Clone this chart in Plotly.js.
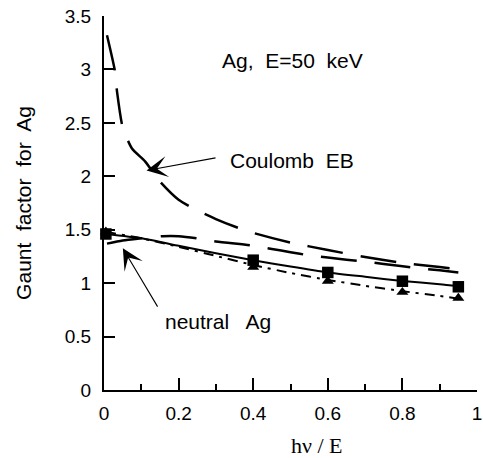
<!DOCTYPE html>
<html>
<head>
<meta charset="utf-8">
<script src="https://cdn.plot.ly/plotly-3.0.1.min.js"></script>
<style>html,body{margin:0;padding:0;background:#fff;}#chart{width:483px;height:458px;}</style>
</head>
<body>
<div id="chart"></div>
<script>
// Coulomb EB (upper long-dashed curve)
var coulombX = [0.008, 0.029, 0.035, 0.05, 0.075, 0.11, 0.15, 0.2, 0.25, 0.3, 0.35, 0.4, 0.5, 0.6, 0.7, 0.8, 0.9, 0.95];
var coulombY = [3.32, 2.99, 2.79, 2.46, 2.26, 2.14, 1.95, 1.78, 1.68, 1.60, 1.53, 1.47, 1.38, 1.31, 1.245, 1.19, 1.15, 1.13];
// lower long-dashed curve
var dashX = [0.008, 0.05, 0.1, 0.157, 0.2, 0.25, 0.3, 0.4, 0.45, 0.5, 0.55, 0.6, 0.7, 0.75, 0.84, 0.9, 0.95];
var dashY = [1.37, 1.40, 1.42, 1.44, 1.44, 1.42, 1.39, 1.35, 1.32, 1.29, 1.26, 1.24, 1.20, 1.18, 1.14, 1.12, 1.10];
// solid curve
var solidX = [0.005, 0.1, 0.2, 0.3, 0.4, 0.5, 0.6, 0.7, 0.8, 0.9, 0.95];
var solidY = [1.46, 1.42, 1.35, 1.28, 1.215, 1.155, 1.10, 1.06, 1.02, 0.99, 0.97];
// dash-dot curve
var dotX = [0.005, 0.1, 0.2, 0.3, 0.4, 0.5, 0.6, 0.7, 0.8, 0.9, 0.95];
var dotY = [1.48, 1.42, 1.34, 1.255, 1.17, 1.095, 1.03, 0.975, 0.925, 0.88, 0.855];
// square points
var squareX = [0.005, 0.4, 0.6, 0.8, 0.95];
var squareY = [1.46, 1.215, 1.10, 1.018, 0.966];
// triangle points
var triX = [0.005, 0.4, 0.6, 0.8, 0.95];
var triY = [1.48, 1.15, 1.02, 0.915, 0.86];

var F = '"Liberation Sans", Arial, Helvetica, sans-serif';
var longDash = '36px,18px';

var traces = [
  {x: coulombX, y: coulombY, mode: 'lines', line: {color: '#000', width: 2.5, dash: longDash, shape: 'spline', smoothing: 0.6}, name: 'Coulomb EB'},
  {x: dashX, y: dashY, mode: 'lines', line: {color: '#000', width: 2.5, dash: longDash, shape: 'spline', smoothing: 0.6}, name: 'neutral Ag (dashed)'},
  {x: solidX, y: solidY, mode: 'lines', line: {color: '#000', width: 2, shape: 'spline', smoothing: 0.6}, name: 'neutral Ag'},
  {x: dotX, y: dotY, mode: 'lines', line: {color: '#000', width: 2, dash: '10px,6px,3px,6px', shape: 'spline', smoothing: 0.6}, name: 'dash-dot'},
  {x: squareX, y: squareY, mode: 'markers', marker: {symbol: 'square', size: 11.5, color: '#000'}, cliponaxis: false, name: 'squares'},
  {x: triX, y: triY, mode: 'markers', marker: {symbol: 'triangle-up', size: 10.5, color: '#000'}, cliponaxis: false, name: 'triangles'}
];

var layout = {
  width: 483, height: 458,
  margin: {l: 104, r: 6, t: 15.7, b: 68},
  paper_bgcolor: '#fff', plot_bgcolor: '#fff',
  showlegend: false,
  font: {family: F, size: 19, color: '#000'},
  xaxis: {
    range: [0, 1], dtick: 0.2, tick0: 0,
    showline: true, linewidth: 2, linecolor: '#000',
    ticks: 'inside', ticklen: 12, tickwidth: 2, tickcolor: '#000',
    minor: {dtick: 0.1, ticks: 'inside', ticklen: 6, tickwidth: 2, tickcolor: '#000'},
    showgrid: false, zeroline: false,
    tickfont: {family: F, size: 19},
    ticklabelstandoff: 5,
    ticklabeloverflow: 'allow'
  },
  yaxis: {
    range: [0, 3.5], dtick: 0.5, tick0: 0,
    showline: true, linewidth: 2, linecolor: '#000',
    ticks: 'inside', ticklen: 11, tickwidth: 2, tickcolor: '#000',
    showgrid: false, zeroline: false,
    tickfont: {family: F, size: 19},
    ticklabelstandoff: 7,
    title: {text: 'Gaunt\u00a0 factor\u00a0 for\u00a0 Ag', font: {family: F, size: 21}, standoff: 27}
  },
  annotations: [
    {xref: 'paper', yref: 'paper', x: (317 - 104) / 373, y: (390 - 446) / 374.3, text: 'hν / E', showarrow: false,
     font: {family: '"Liberation Serif", "Times New Roman", serif', size: 22}, xanchor: 'center', yanchor: 'middle'},
    {xref: 'x', yref: 'y', x: 0.505, y: 3.08, text: 'Ag,\u00a0 E=50\u00a0 keV', showarrow: false, font: {family: F, size: 21}, xanchor: 'center', yanchor: 'middle'},
    {xref: 'x', yref: 'y', x: 0.505, y: 2.15, text: 'Coulomb\u00a0 EB', showarrow: false, font: {family: F, size: 21}, xanchor: 'center', yanchor: 'middle'},
    {xref: 'x', yref: 'y', x: 0.305, y: 0.645, text: 'neutral\u00a0\u00a0 Ag', showarrow: false, font: {family: F, size: 21}, xanchor: 'center', yanchor: 'middle'},
    {xref: 'x', yref: 'y', axref: 'x', ayref: 'y', x: 0.114, y: 2.054, ax: 0.303, ay: 2.175, text: '', showarrow: true,
     arrowhead: 3, arrowsize: 3.2, arrowwidth: 1.1, arrowcolor: '#000'},
    {xref: 'x', yref: 'y', axref: 'x', ayref: 'y', x: 0.0505, y: 1.326, ax: 0.146, ay: 0.766, text: '', showarrow: true,
     arrowhead: 3, arrowsize: 3.2, arrowwidth: 1.1, arrowcolor: '#000'}
  ]
};

Plotly.newPlot('chart', traces, layout, {displayModeBar: false, staticPlot: true});
</script>
</body>
</html>
